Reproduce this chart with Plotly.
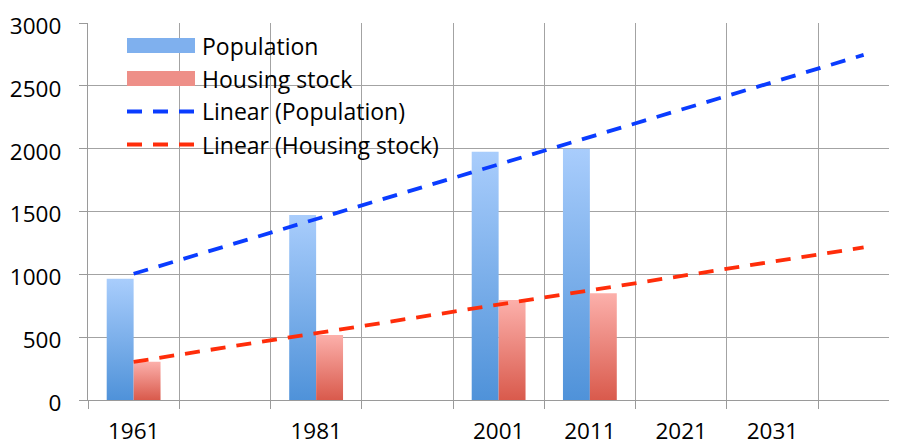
import numpy as np
import plotly.graph_objects as go

# category axis (blank labels for the empty decades)
years = ["1961", "", "1981", "", "2001", "2011", "2021", "2031", ""]
population = [965, None, 1472, None, 1975, 2000, None, None, None]
housing = [305, None, 517, None, 796, 849, None, None, None]

idx = np.arange(1, len(years) + 1)
bar_w = 0.295
font = "'Open Sans', sans-serif"

fig = go.Figure()


def add_bars(values, offset, dark, light):
    for i, v in zip(idx, values):
        if v is None:
            continue
        x0 = i + offset
        fig.add_trace(go.Scatter(
            x=[x0, x0, x0 + bar_w, x0 + bar_w, x0], y=[0, v, v, 0, 0],
            mode="lines", fill="toself", line=dict(width=0),
            fillgradient=dict(type="vertical", start=0, stop=v,
                              colorscale=[[0, dark], [1, light]]),
            showlegend=False, hoverinfo="skip"))


def trend(values):
    pts = [(i, v) for i, v in zip(idx, values) if v is not None]
    xs, ys = zip(*pts)
    slope, icpt = np.polyfit(xs, ys, 1)
    return slope * idx + icpt


add_bars(population, -bar_w, "#4f92d9", "#a9cdfc")
add_bars(housing, 0, "#d95a4c", "#fcb0ab")

fig.add_trace(go.Scatter(x=idx, y=trend(population), mode="lines",
                         line=dict(color="#0a3cff", width=3.8, dash="15px,11px"),
                         showlegend=False))
fig.add_trace(go.Scatter(x=idx, y=trend(housing), mode="lines",
                         line=dict(color="#ff2d0a", width=3.8, dash="15px,11px"),
                         showlegend=False))

# page body has an 8px margin, so everything is placed 8px in
OFF = 8


def py(p):
    return (400 - p) / 377


def px(p):
    return (p - 88) / 809


# hand-made legend, like the Excel one
fig.add_shape(type="rect", xref="paper", yref="paper", layer="between",
              x0=px(100), x1=px(466), y0=py(161), y1=py(28),
              fillcolor="white", line=dict(width=0))
legend_items = [("Population", "bar", "#7fb0ee"),
                ("Housing stock", "bar", "#ee8f88"),
                ("Linear (Population)", "line", "#0a3cff"),
                ("Linear (Housing stock)", "line", "#ff2d0a")]
centers = [45.5, 78.5, 111.5, 144.5]
for (name, kind, col), c in zip(legend_items, centers):
    if kind == "bar":
        fig.add_shape(type="rect", xref="paper", yref="paper", layer="above",
                      x0=px(127), x1=px(195), y0=py(c + 7.5), y1=py(c - 7.5),
                      fillcolor=col, line=dict(width=0))
    else:
        fig.add_shape(type="line", xref="paper", yref="paper", layer="above",
                      x0=px(127), x1=px(195), y0=py(c), y1=py(c),
                      line=dict(color=col, width=3.8, dash="15px,11px"))
    fig.add_annotation(text=name, xref="paper", yref="paper", x=px(200), y=py(c),
                       xanchor="left", yanchor="middle", showarrow=False,
                       font=dict(size=23, color="black", family=font))

fig.update_layout(
    width=897 - OFF, height=446 - OFF,
    margin=dict(l=88 - OFF, r=0, t=23 - OFF, b=46),
    plot_bgcolor="white", paper_bgcolor="white",
    font=dict(family=font, size=22.5, color="black"),
    xaxis=dict(range=[0.5, 0.5 + 809 / 91.25], tickvals=idx, ticktext=years,
               ticks="", showgrid=False, zeroline=False, automargin=False,
               showline=True, linecolor="#9a9a9a", linewidth=1.4,
               ticklabelstandoff=11,
               minor=dict(tick0=0.5, dtick=1, ticks="outside", ticklen=8,
                          tickcolor="#9a9a9a", tickwidth=1.4, showgrid=True,
                          gridcolor="#a3a3a3", gridwidth=1.4)),
    yaxis=dict(range=[0, 3000], dtick=500, ticks="outside", ticklen=8,
               tickcolor="#9a9a9a", tickwidth=1.4, automargin=False,
               showgrid=True, gridcolor="#a3a3a3", gridwidth=1.4,
               zeroline=False, showline=True, linecolor="#9a9a9a", linewidth=1.4,
               ticklabelstandoff=13, ticklabelshift=3, ticklabeloverflow="allow"),
)

fig.write_html("out.html")
